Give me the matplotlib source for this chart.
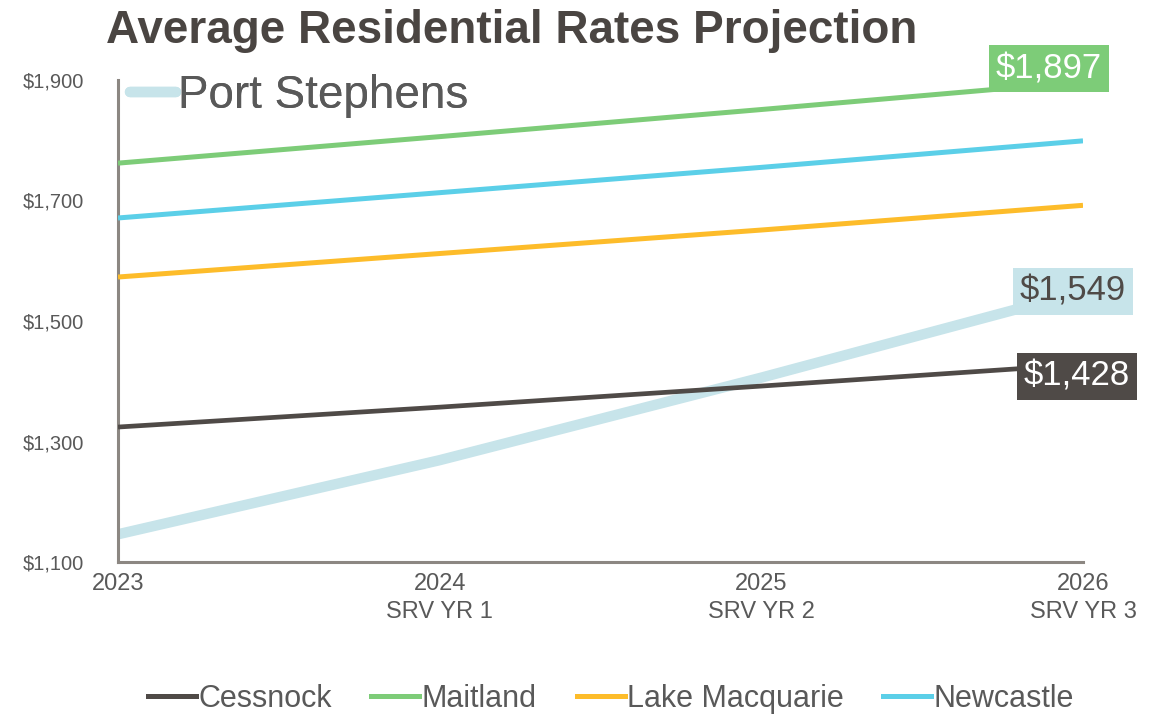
import matplotlib
matplotlib.use("Agg")
import matplotlib.pyplot as plt
from matplotlib.lines import Line2D

plt.rcParams['font.family'] = ['Liberation Sans', 'DejaVu Sans']

years = [2023, 2024, 2025, 2026]
tick_labels = ["2023", "2024\nSRV YR 1", "2025\nSRV YR 2", "2026\nSRV YR 3"]
y_ticks = [1100, 1300, 1500, 1700, 1900]

cessnock = [1324, 1357, 1392, 1428]
maitland = [1762, 1806, 1851, 1897]
lake_macquarie = [1573, 1612, 1651, 1692]
newcastle = [1671, 1713, 1755, 1799]
port_stephens = [1146, 1269, 1406, 1549]

C_CESS = "#4f4a47"
C_MAIT = "#7dcc78"
C_LAKE = "#fdbc2a"
C_NEWC = "#5bcfe8"
C_PORT = "#c7e4ea"
TXT = "#595959"
AXC = "#8c8782"

W, H = 1153, 718
fig = plt.figure(figsize=(W / 100, H / 100), dpi=100)
ax = fig.add_axes([118 / W, 1 - 562 / H, (1083 - 118) / W, (562 - 80) / H])

ax.plot(years, port_stephens, color=C_PORT, lw=7.5, solid_capstyle='butt', zorder=2)
ax.plot(years, cessnock, color=C_CESS, lw=3.4, solid_capstyle='butt', zorder=3)
ax.plot(years, maitland, color=C_MAIT, lw=3.6, solid_capstyle='butt', zorder=3)
ax.plot(years, lake_macquarie, color=C_LAKE, lw=3.6, solid_capstyle='butt', zorder=3)
ax.plot(years, newcastle, color=C_NEWC, lw=3.6, solid_capstyle='butt', zorder=3)

ax.set_xlim(years[0], years[-1])
ax.set_ylim(1100, 1900)
ax.set_yticks(y_ticks)
ax.set_yticklabels([f"${v:,}" for v in y_ticks])
ax.set_xticks(years)
ax.set_xticklabels(tick_labels, linespacing=1.35)
ax.tick_params(axis='y', length=0, pad=24.5, labelsize=14.5, labelcolor=TXT)
ax.tick_params(axis='x', length=0, pad=8, labelsize=17, labelcolor=TXT)
for s in ['top', 'right']:
    ax.spines[s].set_visible(False)
for s in ['left', 'bottom']:
    ax.spines[s].set_color(AXC)
    ax.spines[s].set_linewidth(2.2)
ax.spines['left'].set_bounds(1100, 1900)

# end-point labels
def endlabel(vals, fg, bg, dx, dy):
    ax.annotate(f"${vals[-1]:,}", xy=(years[-1], vals[-1]), xytext=(dx, dy),
                textcoords='offset pixels', ha='center', va='center',
                fontsize=25, color=fg, zorder=5, annotation_clip=False,
                bbox=dict(boxstyle='square,pad=0.2', fc=bg, ec='none'))

endlabel(maitland, "white", C_MAIT, -34, 13)
endlabel(port_stephens, "#4f4a47", C_PORT, -10, 0)
endlabel(cessnock, "white", C_CESS, -6, -12)

# Port Stephens legend (top-left inside plot)
leg1 = ax.legend([Line2D([0], [0], color=C_PORT, lw=7.5, solid_capstyle='round')],
                 ["Port Stephens"], loc='center left',
                 bbox_to_anchor=(130 / W, 1 - 96 / H), bbox_transform=fig.transFigure,
                 frameon=False, fontsize=33, handlelength=1.0, handletextpad=0.05,
                 labelcolor=TXT, borderaxespad=0, borderpad=0)
ax.add_artist(leg1)

# bottom legend
handles = [Line2D([0], [0], color=c, lw=3.6) for c in [C_CESS, C_MAIT, C_LAKE, C_NEWC]]
labels = ["Cessnock", "Maitland", "Lake Macquarie", "Newcastle"]
fig.legend(handles, labels, loc='center', bbox_to_anchor=(611 / W, 1 - 699 / H),
           ncol=4, frameon=False, fontsize=22, handlelength=1.57, handletextpad=0.08,
           columnspacing=1.3, labelcolor=TXT, borderpad=0)

fig.text(512 / W, 1 - 31 / H, "Average Residential Rates Projection",
         ha='center', va='center', fontsize=33, fontweight='bold', color="#4a4542")

fig.savefig("out.png", dpi=100)
